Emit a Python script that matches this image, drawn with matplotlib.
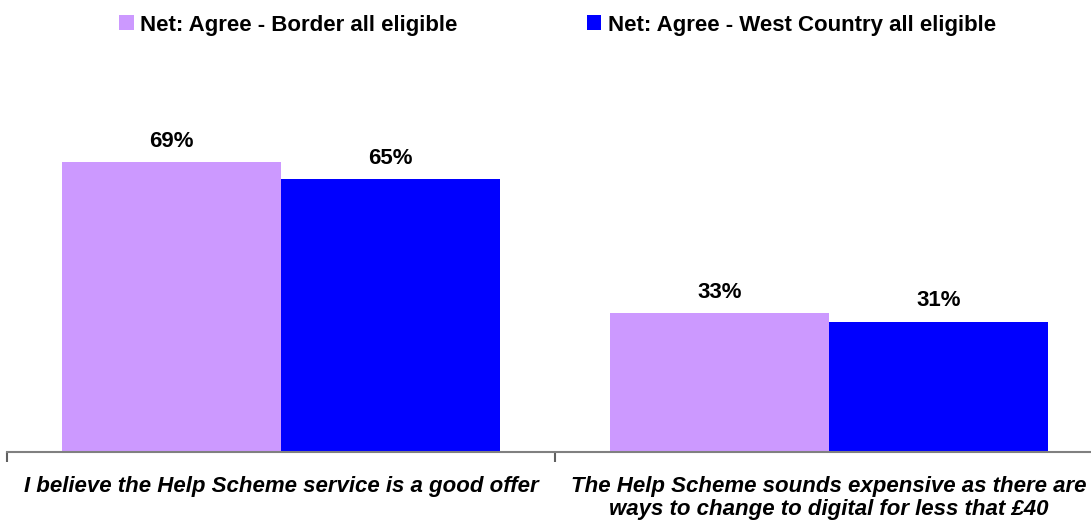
import matplotlib
matplotlib.use('Agg')
import numpy as np
import matplotlib.pyplot as plt
from matplotlib.patches import Patch

plt.rcParams['font.family'] = ['Liberation Sans', 'DejaVu Sans']

categories = [
    'I believe the Help Scheme service is a good offer',
    'The Help Scheme sounds expensive as there are\nways to change to digital for less that £40',
]
series_names = [
    'Net: Agree - Border all eligible',
    'Net: Agree - West Country all eligible',
]
border = [69, 33]
west_country = [65, 31]
colors = ['#CC99FF', '#0000FF']

fig = plt.figure(figsize=(10.91, 5.25), dpi=100)
# axis runs from the left tick past the right edge of the figure
ax = fig.add_axes([7 / 1091, 73 / 525, 1096 / 1091, 336 / 525])

x = np.arange(len(categories))
width = 0.4
for i, (vals, col) in enumerate(zip([border, west_country], colors)):
    pos = x + (i - 0.5) * width
    ax.bar(pos, vals, width=width, color=col)
    for p, v in zip(pos, vals):
        ax.text(p, v + 2.5, f'{v}%', ha='center', va='bottom',
                fontsize=16, fontweight='bold', color='black')

ax.set_xlim(-0.5, 1.5)
ax.set_ylim(0, 80)
ax.set_yticks([])
for s in ['top', 'right', 'left']:
    ax.spines[s].set_visible(False)
ax.spines['bottom'].set_color('#808080')
ax.spines['bottom'].set_linewidth(1.5)

ax.set_xticks(x)
ax.set_xticklabels(categories, fontsize=16, fontweight='bold', fontstyle='italic',
                   linespacing=1.15)
ax.tick_params(axis='x', which='major', length=0, pad=17)
ax.set_xticks([-0.5, 0.5, 1.5], minor=True)
ax.tick_params(axis='x', which='minor', length=7, width=1.5, color='#606060', direction='out')

handles = [Patch(facecolor=c, edgecolor='none', label=n) for c, n in zip(colors, series_names)]
fig.legend(handles=handles, loc='center', bbox_to_anchor=(0.5 + 12 / 1091, 1 - 25 / 525), ncol=2,
           frameon=False, prop={'size': 16, 'weight': 'bold'},
           handlelength=0.65, handleheight=0.65, handletextpad=0.3, columnspacing=5.8)

fig.savefig('out.png', dpi=100)
